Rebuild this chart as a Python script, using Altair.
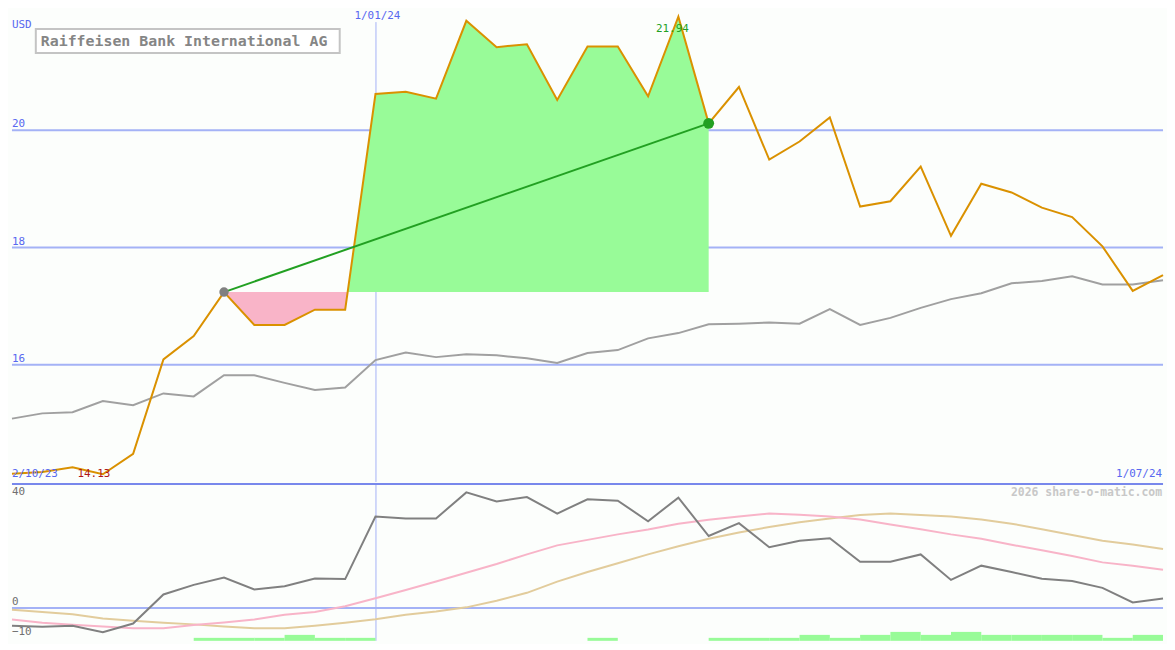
import altair as alt
import pandas as pd

# ---------------- data ----------------
date_labels = ["2/10/23", "1/01/24", "1/07/24"]
year_idx = 12
title_text = "Raiffeisen Bank International AG"
currency = "USD"
watermark = "2026 share-o-matic.com"

price = [14.14, 14.17, 14.25, 14.13, 14.48, 16.09, 16.49, 17.24, 16.68, 16.68,
         16.94, 16.94, 20.62, 20.66, 20.54, 21.87, 21.42, 21.47, 20.52, 21.43,
         21.43, 20.58, 21.94, 20.12, 20.74, 19.50, 19.81, 20.22, 18.70, 18.79,
         19.38, 18.20, 19.09, 18.94, 18.68, 18.52, 18.02, 17.26, 17.53]
bench = [15.08, 15.17, 15.19, 15.38, 15.31, 15.51, 15.46, 15.82, 15.82, 15.69,
         15.57, 15.61, 16.08, 16.21, 16.13, 16.18, 16.16, 16.11, 16.03, 16.20,
         16.25, 16.45, 16.54, 16.69, 16.70, 16.72, 16.70, 16.95, 16.68, 16.80,
         16.97, 17.12, 17.22, 17.39, 17.43, 17.51, 17.37, 17.37, 17.44]
osc = [-6.5, -6.9, -6.5, -8.9, -5.7, 4.9, 8.4, 11.1, 6.7, 7.9,
       10.7, 10.5, 33.3, 32.6, 32.6, 42.1, 38.8, 40.4, 34.4, 39.6,
       39.1, 31.6, 40.2, 26.2, 30.9, 22.1, 24.5, 25.4, 16.8, 16.8,
       19.5, 10.2, 15.4, 13.1, 10.6, 9.8, 7.3, 2.0, 3.4]
osc_pink = [-4.2, -5.4, -6.1, -6.8, -7.4, -7.4, -6.2, -5.3, -4.2, -2.5,
            -1.5, 0.6, 3.5, 6.5, 9.6, 12.8, 16.0, 19.5, 22.8, 24.8,
            26.8, 28.6, 30.7, 32.1, 33.3, 34.4, 34.0, 33.3, 32.2, 30.4,
            28.7, 26.8, 25.2, 23.0, 21.0, 18.9, 16.6, 15.4, 13.9]
osc_tan = [-0.7, -1.5, -2.3, -3.9, -4.7, -5.4, -6.0, -6.8, -7.4, -7.4,
           -6.5, -5.4, -4.1, -2.5, -1.3, 0.2, 2.6, 5.5, 9.6, 13.1,
           16.3, 19.5, 22.5, 25.2, 27.5, 29.5, 31.2, 32.6, 33.9, 34.4,
           33.9, 33.3, 32.2, 30.7, 28.7, 26.6, 24.5, 23.1, 21.5]
# volume level per interval (interval k spans point k .. k+1)
vol = [0, 0, 0, 0, 0, 0, 1, 1, 1, 2, 1, 1, 0, 0, 0, 0, 0, 0, 0, 1,
       0, 0, 0, 1, 1, 1, 2, 1, 2, 3, 2, 3, 2, 2, 2, 2, 1, 2]
grid_upper = [16, 18, 20]
lower_labels = [40, 0]
lower_label_low = [-10]
entry_idx = 7
exit_idx = 23
max_label = "21.94"
min_label = "14.13"

# ---------------- layout ----------------
W, HU, HL = 1159, 472, 158
FONT = "DejaVu Sans Mono"
BLUE_TXT = "#5868f0"
GRID = "#a4b2f6"
ORANGE = "#da9100"
GREEN_FILL = "#98fb98"
PINK_FILL = "#f9b4c8"

n = len(price)
df = pd.DataFrame({"i": list(range(n)), "price": price, "bench": bench,
                   "osc": osc, "pink": osc_pink, "tan": osc_tan})

xs = alt.Scale(domain=[0, n - 1], nice=False, zero=False)
yu = alt.Scale(domain=[14, 22], nice=False, zero=False)
yl = alt.Scale(domain=[-12, 45.2], nice=False, zero=False)
yv = alt.Scale(domain=[0, HL / 3], nice=False, zero=False)

X = lambda f: alt.X(f, scale=xs, axis=None)
YU = lambda f: alt.Y(f, scale=yu, axis=None)
YL = lambda f: alt.Y(f, scale=yl, axis=None)

base = price[entry_idx]
cross = None
for k in range(entry_idx + 1, exit_idx):
    a, b = price[k] - base, price[k + 1] - base
    if a < 0 <= b:
        cross = k + (-a) / (b - a)
        break

pink_pts = [(k, price[k]) for k in range(entry_idx, int(cross) + 1)] + [(cross, base)]
green_pts = [(cross, base)] + [(k, price[k]) for k in range(int(cross) + 1, exit_idx + 1)]
pink_df = pd.DataFrame({"x": [p[0] for p in pink_pts], "y": [p[1] for p in pink_pts], "b": base})
green_df = pd.DataFrame({"x": [p[0] for p in green_pts], "y": [p[1] for p in green_pts], "b": base})
trade_df = pd.DataFrame({"x": [entry_idx, exit_idx], "y": [base, price[exit_idx]]})

# ---------------- upper panel ----------------
grid = alt.Chart(pd.DataFrame({"v": grid_upper})).mark_rule(color=GRID, strokeWidth=2).encode(y=YU("v:Q"))
grid_lbl = alt.Chart(pd.DataFrame({"v": grid_upper})).mark_text(
    align="left", baseline="middle", dy=-6, font=FONT, fontSize=11, color=BLUE_TXT
).encode(x=alt.value(0), y=YU("v:Q"), text="v:Q")
vline_u = alt.Chart(pd.DataFrame({"i": [year_idx]})).mark_rule(color=GRID, strokeWidth=1, xOffset=0.5).encode(
    x=X("i:Q"), y=alt.value(9), y2=alt.value(HU))
pink_area = alt.Chart(pink_df).mark_area(color=PINK_FILL, opacity=1).encode(x=X("x:Q"), y=YU("y:Q"), y2="b:Q")
green_area = alt.Chart(green_df).mark_area(color=GREEN_FILL, opacity=1).encode(x=X("x:Q"), y=YU("y:Q"), y2="b:Q")
bench_line = alt.Chart(df).mark_line(color="#a0a0a0", strokeWidth=2).encode(x=X("i:Q"), y=YU("bench:Q"))
price_line = alt.Chart(df).mark_line(color=ORANGE, strokeWidth=2).encode(x=X("i:Q"), y=YU("price:Q"))
trade_line = alt.Chart(trade_df).mark_line(color="#22a022", strokeWidth=2).encode(x=X("x:Q"), y=YU("y:Q"))
dot_in = alt.Chart(trade_df.iloc[[0]]).mark_circle(color="#808080", opacity=1, size=90).encode(x=X("x:Q"), y=YU("y:Q"))
dot_out = alt.Chart(trade_df.iloc[[1]]).mark_circle(color="#22a022", opacity=1, size=120).encode(x=X("x:Q"), y=YU("y:Q"))

imax = price.index(max(price))
imin = price.index(min(price))
max_txt = alt.Chart(pd.DataFrame({"x": [imax], "y": [max(price)], "t": [max_label]})).mark_text(
    font=FONT, fontSize=11, color="#22a022", dx=-6, dy=12, baseline="middle").encode(
    x=X("x:Q"), y=YU("y:Q"), text="t:N")
min_txt = alt.Chart(pd.DataFrame({"x": [imin], "y": [min(price)], "t": [min_label]})).mark_text(
    font=FONT, fontSize=11, color="#b01818", dx=-9, dy=0, baseline="middle").encode(
    x=X("x:Q"), y=YU("y:Q"), text="t:N")

date_df = pd.DataFrame({"x": [0, year_idx, n - 1], "t": date_labels})
d_year = alt.Chart(date_df.iloc[[1]]).mark_text(font=FONT, fontSize=11, color=BLUE_TXT, dx=2, baseline="middle").encode(
    x=X("x:Q"), y=alt.value(3), text="t:N")
d_first = alt.Chart(date_df.iloc[[0]]).mark_text(font=FONT, fontSize=11, color=BLUE_TXT, align="left", baseline="middle").encode(
    x=X("x:Q"), y=alt.value(HU - 8), text="t:N")
d_last = alt.Chart(date_df.iloc[[2]]).mark_text(font=FONT, fontSize=11, color=BLUE_TXT, align="right", dx=-1, baseline="middle").encode(
    x=X("x:Q"), y=alt.value(HU - 8), text="t:N")
usd = alt.Chart(pd.DataFrame({"t": [currency]})).mark_text(font=FONT, fontSize=11, color=BLUE_TXT, align="left", baseline="middle").encode(
    x=alt.value(0), y=alt.value(12), text="t:N")
title_df = pd.DataFrame({"t": [title_text]})
title_box = alt.Chart(title_df).mark_rect(fill="white", stroke="#c4c4c4", strokeWidth=2).encode(
    x=alt.value(24), x2=alt.value(330), y=alt.value(16), y2=alt.value(40))
title_txt = alt.Chart(title_df).mark_text(font=FONT, fontSize=15, fontWeight="bold", color="#858585", align="left", baseline="middle").encode(
    x=alt.value(29), y=alt.value(28), text="t:N")

upper = alt.layer(grid, grid_lbl, vline_u, pink_area, green_area, bench_line, price_line,
                  trade_line, dot_in, dot_out, max_txt, min_txt, d_year, d_first, d_last,
                  usd, title_box, title_txt).properties(width=W, height=HU)

# ---------------- lower panel ----------------
zero_rule = alt.Chart(pd.DataFrame({"v": [0]})).mark_rule(color=GRID, strokeWidth=2).encode(y=YL("v:Q"))
vline_l = alt.Chart(pd.DataFrame({"i": [year_idx]})).mark_rule(color=GRID, strokeWidth=1, xOffset=0.5).encode(
    x=X("i:Q"), y=alt.value(0), y2=alt.value(HL))
vol_df = pd.DataFrame({"x0": list(range(len(vol))), "x1": [k + 1 for k in range(len(vol))], "lvl": vol, "z": 0})
vol_df = vol_df[vol_df.lvl > 0]
vol_bars = alt.Chart(vol_df).mark_rect(color=GREEN_FILL).encode(
    x=X("x0:Q"), x2="x1:Q", y=alt.Y("lvl:Q", scale=yv, axis=None), y2="z:Q")
tan_line = alt.Chart(df).mark_line(color="#e2cc9c", strokeWidth=2).encode(x=X("i:Q"), y=YL("tan:Q"))
pink_line = alt.Chart(df).mark_line(color="#f8b4c8", strokeWidth=2).encode(x=X("i:Q"), y=YL("pink:Q"))
osc_line = alt.Chart(df).mark_line(color="#808080", strokeWidth=2).encode(x=X("i:Q"), y=YL("osc:Q"))
lbl_l = alt.Chart(pd.DataFrame({"v": lower_labels})).mark_text(
    font=FONT, fontSize=11, color="#707070", align="left", baseline="middle", dy=-6).encode(
    x=alt.value(0), y=YL("v:Q"), text="v:Q")
lbl_l2 = alt.Chart(pd.DataFrame({"v": lower_label_low})).mark_text(
    font=FONT, fontSize=11, color="#707070", align="left", baseline="middle", dy=-3).encode(
    x=alt.value(0), y=YL("v:Q"), text="v:Q")
sep = alt.Chart(pd.DataFrame({"v": [0]})).mark_rule(color="#7888ec", strokeWidth=2).encode(y=alt.value(0))
wm = alt.Chart(pd.DataFrame({"t": [watermark]})).mark_text(
    font=FONT, fontSize=11.5, fontWeight="bold", color="#c8c8c8", align="right", baseline="middle").encode(
    x=alt.value(W - 1), y=alt.value(9), text="t:N")

lower = alt.layer(zero_rule, vline_l, vol_bars, tan_line, pink_line, osc_line, lbl_l, lbl_l2, sep, wm
                  ).resolve_scale(y="independent").properties(width=W, height=HL)

chart = alt.vconcat(upper, lower, spacing=0).properties(
    padding=0, background="#fcfefc"
).configure_view(stroke=None).configure_concat(spacing=0)

chart.save("out.html", embed_options={"renderer": "svg", "actions": False})
